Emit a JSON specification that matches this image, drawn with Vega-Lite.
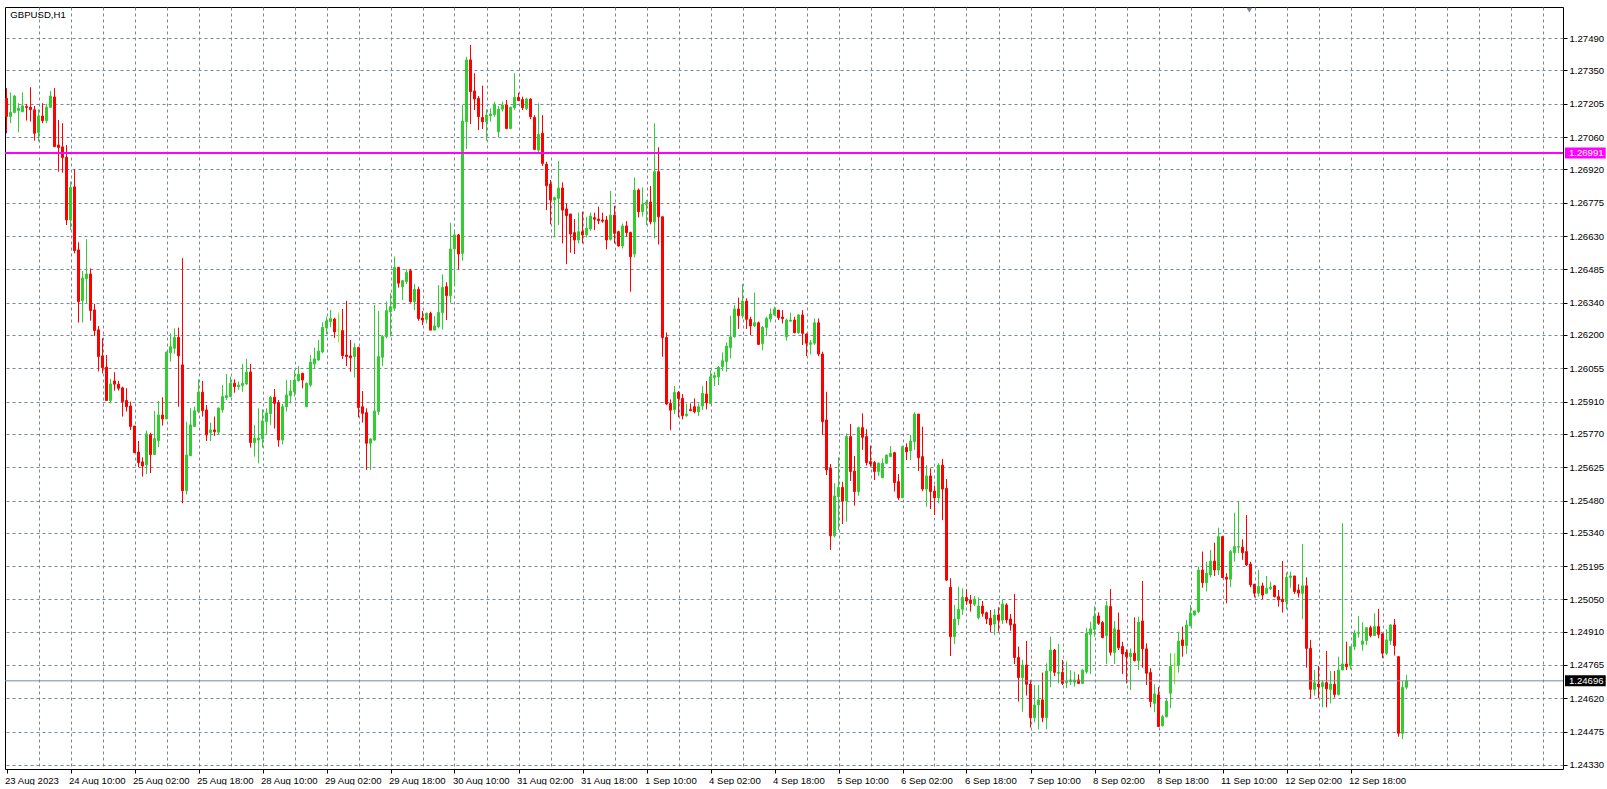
{
"$schema":"https://vega.github.io/schema/vega-lite/v6.json",
"width":1558,"height":762,
"padding":{"left":4,"top":7,"right":0,"bottom":0},
"background":"#ffffff",
"config":{"view":{"stroke":"#000000","strokeWidth":1},"axis":{"labelFont":"Liberation Sans","labelFontSize":9.6,"labelColor":"#000000","domain":false,"gridColor":"#778899","gridDash":[3,3],"gridWidth":1,"tickColor":"#000000","tickSize":4,"labelOverlap":false,"labelBound":false,"labelFlush":false,"tickCount":200}},
"data":{"values":[
{"i":1,"o":1.27229,"h":1.27273,"l":1.27077,"c":1.27150},
{"i":2,"o":1.27150,"h":1.27255,"l":1.27121,"c":1.27168},
{"i":3,"o":1.27168,"h":1.27244,"l":1.27164,"c":1.27239},
{"i":4,"o":1.27176,"h":1.27208,"l":1.27081,"c":1.27187},
{"i":5,"o":1.27171,"h":1.27255,"l":1.27168,"c":1.27196},
{"i":6,"o":1.27193,"h":1.27205,"l":1.27132,"c":1.27189},
{"i":7,"o":1.27190,"h":1.27277,"l":1.27128,"c":1.27180},
{"i":8,"o":1.27179,"h":1.27196,"l":1.27045,"c":1.27077},
{"i":9,"o":1.27080,"h":1.27181,"l":1.27041,"c":1.27152},
{"i":10,"o":1.27152,"h":1.27208,"l":1.27121,"c":1.27132},
{"i":11,"o":1.27132,"h":1.27205,"l":1.27121,"c":1.27190},
{"i":12,"o":1.27190,"h":1.27261,"l":1.27189,"c":1.27239},
{"i":13,"o":1.27235,"h":1.27274,"l":1.27019,"c":1.27019},
{"i":14,"o":1.27026,"h":1.27135,"l":1.26910,"c":1.27015},
{"i":15,"o":1.27018,"h":1.27121,"l":1.26906,"c":1.26971},
{"i":16,"o":1.26973,"h":1.27026,"l":1.26678,"c":1.26700},
{"i":17,"o":1.26700,"h":1.26867,"l":1.26657,"c":1.26841},
{"i":18,"o":1.26844,"h":1.26921,"l":1.26555,"c":1.26567},
{"i":19,"o":1.26570,"h":1.26603,"l":1.26254,"c":1.26345},
{"i":20,"o":1.26349,"h":1.26478,"l":1.26254,"c":1.26448},
{"i":21,"o":1.26445,"h":1.26616,"l":1.26335,"c":1.26465},
{"i":22,"o":1.26465,"h":1.26489,"l":1.26262,"c":1.26306},
{"i":23,"o":1.26309,"h":1.26335,"l":1.26196,"c":1.26219},
{"i":24,"o":1.26222,"h":1.26239,"l":1.26041,"c":1.26106},
{"i":25,"o":1.26109,"h":1.26186,"l":1.26033,"c":1.26058},
{"i":26,"o":1.26060,"h":1.26113,"l":1.25915,"c":1.25915},
{"i":27,"o":1.25915,"h":1.26009,"l":1.25903,"c":1.25987},
{"i":28,"o":1.26000,"h":1.26038,"l":1.25958,"c":1.25986},
{"i":29,"o":1.25986,"h":1.26000,"l":1.25958,"c":1.25968},
{"i":30,"o":1.25970,"h":1.25975,"l":1.25845,"c":1.25910},
{"i":31,"o":1.25915,"h":1.25968,"l":1.25867,"c":1.25888},
{"i":32,"o":1.25891,"h":1.25910,"l":1.25787,"c":1.25802},
{"i":33,"o":1.25804,"h":1.25804,"l":1.25688,"c":1.25688},
{"i":34,"o":1.25691,"h":1.25739,"l":1.25625,"c":1.25645},
{"i":35,"o":1.25648,"h":1.25668,"l":1.25584,"c":1.25630},
{"i":36,"o":1.25635,"h":1.25784,"l":1.25596,"c":1.25770},
{"i":37,"o":1.25767,"h":1.25775,"l":1.25599,"c":1.25680},
{"i":38,"o":1.25680,"h":1.25870,"l":1.25680,"c":1.25749},
{"i":39,"o":1.25741,"h":1.25913,"l":1.25712,"c":1.25852},
{"i":40,"o":1.25852,"h":1.25929,"l":1.25806,"c":1.25835},
{"i":41,"o":1.25835,"h":1.26128,"l":1.25835,"c":1.26125},
{"i":42,"o":1.26123,"h":1.26207,"l":1.26084,"c":1.26149},
{"i":43,"o":1.26142,"h":1.26229,"l":1.26118,"c":1.26189},
{"i":44,"o":1.26189,"h":1.26232,"l":1.25888,"c":1.26109},
{"i":45,"o":1.26070,"h":1.26534,"l":1.25468,"c":1.25523},
{"i":46,"o":1.25523,"h":1.25823,"l":1.25507,"c":1.25678},
{"i":47,"o":1.25675,"h":1.25881,"l":1.25674,"c":1.25809},
{"i":48,"o":1.25802,"h":1.25889,"l":1.25802,"c":1.25870},
{"i":49,"o":1.25867,"h":1.26007,"l":1.25859,"c":1.25951},
{"i":50,"o":1.25951,"h":1.26000,"l":1.25845,"c":1.25871},
{"i":51,"o":1.25874,"h":1.25895,"l":1.25739,"c":1.25765},
{"i":52,"o":1.25775,"h":1.25819,"l":1.25739,"c":1.25787},
{"i":53,"o":1.25787,"h":1.25845,"l":1.25761,"c":1.25780},
{"i":54,"o":1.25777,"h":1.25885,"l":1.25765,"c":1.25882},
{"i":55,"o":1.25874,"h":1.25982,"l":1.25862,"c":1.25932},
{"i":56,"o":1.25927,"h":1.26030,"l":1.25917,"c":1.25936},
{"i":57,"o":1.25932,"h":1.26019,"l":1.25929,"c":1.25990},
{"i":58,"o":1.25990,"h":1.26007,"l":1.25949,"c":1.25975},
{"i":59,"o":1.25975,"h":1.25997,"l":1.25961,"c":1.25982},
{"i":60,"o":1.25980,"h":1.26074,"l":1.25953,"c":1.25990},
{"i":61,"o":1.25987,"h":1.26096,"l":1.25982,"c":1.26039},
{"i":62,"o":1.26039,"h":1.26074,"l":1.25710,"c":1.25732},
{"i":63,"o":1.25732,"h":1.25809,"l":1.25671,"c":1.25751},
{"i":64,"o":1.25743,"h":1.25881,"l":1.25642,"c":1.25751},
{"i":65,"o":1.25748,"h":1.25877,"l":1.25710,"c":1.25826},
{"i":66,"o":1.25823,"h":1.25881,"l":1.25765,"c":1.25861},
{"i":67,"o":1.25858,"h":1.25935,"l":1.25809,"c":1.25929},
{"i":68,"o":1.25929,"h":1.25965,"l":1.25793,"c":1.25903},
{"i":69,"o":1.25906,"h":1.25917,"l":1.25714,"c":1.25743},
{"i":70,"o":1.25743,"h":1.25900,"l":1.25724,"c":1.25888},
{"i":71,"o":1.25888,"h":1.26004,"l":1.25867,"c":1.25939},
{"i":72,"o":1.25936,"h":1.26004,"l":1.25903,"c":1.25956},
{"i":73,"o":1.25953,"h":1.26048,"l":1.25932,"c":1.26004},
{"i":74,"o":1.26001,"h":1.26065,"l":1.25997,"c":1.26030},
{"i":75,"o":1.26033,"h":1.26036,"l":1.25968,"c":1.26004},
{"i":76,"o":1.25888,"h":1.25993,"l":1.25888,"c":1.25990},
{"i":77,"o":1.25982,"h":1.26113,"l":1.25975,"c":1.26082},
{"i":78,"o":1.26074,"h":1.26145,"l":1.26055,"c":1.26096},
{"i":79,"o":1.26091,"h":1.26178,"l":1.26088,"c":1.26130},
{"i":80,"o":1.26126,"h":1.26255,"l":1.26120,"c":1.26233},
{"i":81,"o":1.26232,"h":1.26280,"l":1.26203,"c":1.26261},
{"i":82,"o":1.26258,"h":1.26309,"l":1.26233,"c":1.26271},
{"i":83,"o":1.26269,"h":1.26275,"l":1.26187,"c":1.26213},
{"i":84,"o":1.26222,"h":1.26297,"l":1.26167,"c":1.26222},
{"i":85,"o":1.26219,"h":1.26313,"l":1.26096,"c":1.26110},
{"i":86,"o":1.26113,"h":1.26348,"l":1.26065,"c":1.26106},
{"i":87,"o":1.26109,"h":1.26178,"l":1.26040,"c":1.26101},
{"i":88,"o":1.26106,"h":1.26164,"l":1.26014,"c":1.26145},
{"i":89,"o":1.26145,"h":1.26149,"l":1.25842,"c":1.25884},
{"i":90,"o":1.25888,"h":1.25956,"l":1.25819,"c":1.25859},
{"i":91,"o":1.25862,"h":1.25881,"l":1.25613,"c":1.25729},
{"i":92,"o":1.25729,"h":1.25750,"l":1.25613,"c":1.25748},
{"i":93,"o":1.25743,"h":1.26330,"l":1.25740,"c":1.25869},
{"i":94,"o":1.25867,"h":1.26304,"l":1.25852,"c":1.26106},
{"i":95,"o":1.26103,"h":1.26200,"l":1.26065,"c":1.26193},
{"i":96,"o":1.26193,"h":1.26345,"l":1.26185,"c":1.26306},
{"i":97,"o":1.26301,"h":1.26381,"l":1.26193,"c":1.26323},
{"i":98,"o":1.26316,"h":1.26541,"l":1.26304,"c":1.26494},
{"i":99,"o":1.26494,"h":1.26494,"l":1.26406,"c":1.26425},
{"i":100,"o":1.26410,"h":1.26439,"l":1.26352,"c":1.26436},
{"i":101,"o":1.26432,"h":1.26487,"l":1.26421,"c":1.26472},
{"i":102,"o":1.26479,"h":1.26487,"l":1.26340,"c":1.26345},
{"i":103,"o":1.26345,"h":1.26421,"l":1.26308,"c":1.26398},
{"i":104,"o":1.26398,"h":1.26410,"l":1.26262,"c":1.26271},
{"i":105,"o":1.26274,"h":1.26304,"l":1.26243,"c":1.26265},
{"i":106,"o":1.26268,"h":1.26297,"l":1.26250,"c":1.26294},
{"i":107,"o":1.26294,"h":1.26301,"l":1.26221,"c":1.26221},
{"i":108,"o":1.26221,"h":1.26282,"l":1.26221,"c":1.26239},
{"i":109,"o":1.26236,"h":1.26417,"l":1.26229,"c":1.26298},
{"i":110,"o":1.26297,"h":1.26464,"l":1.26224,"c":1.26407},
{"i":111,"o":1.26410,"h":1.26429,"l":1.26265,"c":1.26371},
{"i":112,"o":1.26371,"h":1.26688,"l":1.26340,"c":1.26574},
{"i":113,"o":1.26574,"h":1.26656,"l":1.26413,"c":1.26635},
{"i":114,"o":1.26635,"h":1.26639,"l":1.26485,"c":1.26552},
{"i":115,"o":1.26555,"h":1.27200,"l":1.26523,"c":1.27130},
{"i":116,"o":1.27127,"h":1.27410,"l":1.27009,"c":1.27396},
{"i":117,"o":1.27396,"h":1.27461,"l":1.27117,"c":1.27258},
{"i":118,"o":1.27261,"h":1.27338,"l":1.27178,"c":1.27226},
{"i":119,"o":1.27229,"h":1.27239,"l":1.27091,"c":1.27149},
{"i":120,"o":1.27146,"h":1.27284,"l":1.27095,"c":1.27127},
{"i":121,"o":1.27127,"h":1.27182,"l":1.27045,"c":1.27156},
{"i":122,"o":1.27153,"h":1.27185,"l":1.27127,"c":1.27161},
{"i":123,"o":1.27159,"h":1.27214,"l":1.27149,"c":1.27204},
{"i":124,"o":1.27084,"h":1.27196,"l":1.27059,"c":1.27182},
{"i":125,"o":1.27182,"h":1.27214,"l":1.27171,"c":1.27200},
{"i":126,"o":1.27200,"h":1.27222,"l":1.27094,"c":1.27098},
{"i":127,"o":1.27098,"h":1.27193,"l":1.27095,"c":1.27190},
{"i":128,"o":1.27188,"h":1.27338,"l":1.27178,"c":1.27233},
{"i":129,"o":1.27233,"h":1.27253,"l":1.27217,"c":1.27219},
{"i":130,"o":1.27224,"h":1.27236,"l":1.27178,"c":1.27188},
{"i":131,"o":1.27185,"h":1.27232,"l":1.27178,"c":1.27226},
{"i":132,"o":1.27226,"h":1.27229,"l":1.27138,"c":1.27149},
{"i":133,"o":1.27146,"h":1.27156,"l":1.27004,"c":1.27007},
{"i":134,"o":1.27004,"h":1.27207,"l":1.26993,"c":1.27072},
{"i":135,"o":1.27077,"h":1.27156,"l":1.26935,"c":1.26946},
{"i":136,"o":1.26943,"h":1.26953,"l":1.26743,"c":1.26849},
{"i":137,"o":1.26856,"h":1.26874,"l":1.26681,"c":1.26787},
{"i":138,"o":1.26787,"h":1.26801,"l":1.26624,"c":1.26797},
{"i":139,"o":1.26794,"h":1.26956,"l":1.26678,"c":1.26839},
{"i":140,"o":1.26839,"h":1.26864,"l":1.26598,"c":1.26743},
{"i":141,"o":1.26748,"h":1.26772,"l":1.26508,"c":1.26719},
{"i":142,"o":1.26726,"h":1.26726,"l":1.26558,"c":1.26639},
{"i":143,"o":1.26645,"h":1.26704,"l":1.26552,"c":1.26613},
{"i":144,"o":1.26613,"h":1.26732,"l":1.26598,"c":1.26649},
{"i":145,"o":1.26649,"h":1.26736,"l":1.26598,"c":1.26635},
{"i":146,"o":1.26635,"h":1.26714,"l":1.26624,"c":1.26664},
{"i":147,"o":1.26661,"h":1.26732,"l":1.26653,"c":1.26717},
{"i":148,"o":1.26710,"h":1.26732,"l":1.26656,"c":1.26703},
{"i":149,"o":1.26704,"h":1.26758,"l":1.26682,"c":1.26697},
{"i":150,"o":1.26700,"h":1.26732,"l":1.26688,"c":1.26695},
{"i":151,"o":1.26700,"h":1.26717,"l":1.26572,"c":1.26613},
{"i":152,"o":1.26616,"h":1.26826,"l":1.26610,"c":1.26721},
{"i":153,"o":1.26721,"h":1.26762,"l":1.26598,"c":1.26642},
{"i":154,"o":1.26649,"h":1.26653,"l":1.26584,"c":1.26587},
{"i":155,"o":1.26587,"h":1.26685,"l":1.26576,"c":1.26674},
{"i":156,"o":1.26674,"h":1.26695,"l":1.26627,"c":1.26645},
{"i":157,"o":1.26646,"h":1.26649,"l":1.26388,"c":1.26540},
{"i":158,"o":1.26552,"h":1.26885,"l":1.26537,"c":1.26830},
{"i":159,"o":1.26830,"h":1.26837,"l":1.26711,"c":1.26736},
{"i":160,"o":1.26736,"h":1.26842,"l":1.26714,"c":1.26769},
{"i":161,"o":1.26768,"h":1.26787,"l":1.26678,"c":1.26778},
{"i":162,"o":1.26778,"h":1.26848,"l":1.26681,"c":1.26692},
{"i":163,"o":1.26692,"h":1.27120,"l":1.26620,"c":1.26910},
{"i":164,"o":1.26910,"h":1.27016,"l":1.26594,"c":1.26714},
{"i":165,"o":1.26714,"h":1.26714,"l":1.26105,"c":1.26188},
{"i":166,"o":1.26189,"h":1.26211,"l":1.25895,"c":1.25900},
{"i":167,"o":1.25902,"h":1.25920,"l":1.25786,"c":1.25873},
{"i":168,"o":1.25876,"h":1.25978,"l":1.25856,"c":1.25950},
{"i":169,"o":1.25950,"h":1.25956,"l":1.25842,"c":1.25924},
{"i":170,"o":1.25924,"h":1.25943,"l":1.25833,"c":1.25849},
{"i":171,"o":1.25849,"h":1.25900,"l":1.25844,"c":1.25856},
{"i":172,"o":1.25876,"h":1.25902,"l":1.25869,"c":1.25871},
{"i":173,"o":1.25888,"h":1.25924,"l":1.25859,"c":1.25866},
{"i":174,"o":1.25866,"h":1.25902,"l":1.25847,"c":1.25888},
{"i":175,"o":1.25891,"h":1.25978,"l":1.25873,"c":1.25946},
{"i":176,"o":1.25943,"h":1.26000,"l":1.25876,"c":1.25905},
{"i":177,"o":1.25902,"h":1.26047,"l":1.25900,"c":1.26018},
{"i":178,"o":1.26015,"h":1.26040,"l":1.25978,"c":1.26023},
{"i":179,"o":1.26018,"h":1.26065,"l":1.25982,"c":1.26059},
{"i":180,"o":1.26062,"h":1.26124,"l":1.26044,"c":1.26088},
{"i":181,"o":1.26084,"h":1.26168,"l":1.26040,"c":1.26152},
{"i":182,"o":1.26145,"h":1.26284,"l":1.26098,"c":1.26192},
{"i":183,"o":1.26192,"h":1.26330,"l":1.26188,"c":1.26313},
{"i":184,"o":1.26313,"h":1.26362,"l":1.26226,"c":1.26284},
{"i":185,"o":1.26284,"h":1.26421,"l":1.26272,"c":1.26347},
{"i":186,"o":1.26347,"h":1.26359,"l":1.26226,"c":1.26268},
{"i":187,"o":1.26268,"h":1.26279,"l":1.26200,"c":1.26239},
{"i":188,"o":1.26239,"h":1.26384,"l":1.26236,"c":1.26253},
{"i":189,"o":1.26253,"h":1.26258,"l":1.26156,"c":1.26159},
{"i":190,"o":1.26163,"h":1.26239,"l":1.26134,"c":1.26233},
{"i":191,"o":1.26233,"h":1.26279,"l":1.26195,"c":1.26272},
{"i":192,"o":1.26269,"h":1.26316,"l":1.26255,"c":1.26291},
{"i":193,"o":1.26287,"h":1.26323,"l":1.26284,"c":1.26313},
{"i":194,"o":1.26308,"h":1.26308,"l":1.26265,"c":1.26275},
{"i":195,"o":1.26278,"h":1.26308,"l":1.26250,"c":1.26271},
{"i":196,"o":1.26192,"h":1.26272,"l":1.26175,"c":1.26265},
{"i":197,"o":1.26260,"h":1.26297,"l":1.26258,"c":1.26265},
{"i":198,"o":1.26265,"h":1.26279,"l":1.26207,"c":1.26210},
{"i":199,"o":1.26210,"h":1.26291,"l":1.26204,"c":1.26287},
{"i":200,"o":1.26287,"h":1.26308,"l":1.26156,"c":1.26207},
{"i":201,"o":1.26204,"h":1.26207,"l":1.26108,"c":1.26164},
{"i":202,"o":1.26159,"h":1.26178,"l":1.26116,"c":1.26166},
{"i":203,"o":1.26164,"h":1.26272,"l":1.26156,"c":1.26253},
{"i":204,"o":1.26253,"h":1.26272,"l":1.26108,"c":1.26117},
{"i":205,"o":1.26117,"h":1.26127,"l":1.25765,"c":1.25823},
{"i":206,"o":1.25830,"h":1.25953,"l":1.25591,"c":1.25613},
{"i":207,"o":1.25620,"h":1.25639,"l":1.25265,"c":1.25327},
{"i":208,"o":1.25327,"h":1.25555,"l":1.25319,"c":1.25500},
{"i":209,"o":1.25497,"h":1.25668,"l":1.25352,"c":1.25537},
{"i":210,"o":1.25537,"h":1.25562,"l":1.25378,"c":1.25478},
{"i":211,"o":1.25478,"h":1.25772,"l":1.25388,"c":1.25758},
{"i":212,"o":1.25758,"h":1.25813,"l":1.25565,"c":1.25606},
{"i":213,"o":1.25608,"h":1.25674,"l":1.25458,"c":1.25519},
{"i":214,"o":1.25519,"h":1.25801,"l":1.25501,"c":1.25797},
{"i":215,"o":1.25797,"h":1.25859,"l":1.25700,"c":1.25755},
{"i":216,"o":1.25758,"h":1.25790,"l":1.25632,"c":1.25645},
{"i":217,"o":1.25649,"h":1.25719,"l":1.25627,"c":1.25639},
{"i":218,"o":1.25645,"h":1.25652,"l":1.25569,"c":1.25606},
{"i":219,"o":1.25606,"h":1.25646,"l":1.25587,"c":1.25642},
{"i":220,"o":1.25579,"h":1.25663,"l":1.25579,"c":1.25642},
{"i":221,"o":1.25642,"h":1.25678,"l":1.25642,"c":1.25678},
{"i":222,"o":1.25671,"h":1.25717,"l":1.25671,"c":1.25685},
{"i":223,"o":1.25688,"h":1.25692,"l":1.25519,"c":1.25558},
{"i":224,"o":1.25562,"h":1.25595,"l":1.25482,"c":1.25492},
{"i":225,"o":1.25492,"h":1.25719,"l":1.25490,"c":1.25714},
{"i":226,"o":1.25711,"h":1.25729,"l":1.25656,"c":1.25692},
{"i":227,"o":1.25697,"h":1.25765,"l":1.25656,"c":1.25739},
{"i":228,"o":1.25736,"h":1.25864,"l":1.25700,"c":1.25856},
{"i":229,"o":1.25856,"h":1.25856,"l":1.25608,"c":1.25666},
{"i":230,"o":1.25671,"h":1.25801,"l":1.25521,"c":1.25530},
{"i":231,"o":1.25530,"h":1.25634,"l":1.25453,"c":1.25587},
{"i":232,"o":1.25587,"h":1.25620,"l":1.25443,"c":1.25519},
{"i":233,"o":1.25521,"h":1.25545,"l":1.25417,"c":1.25492},
{"i":234,"o":1.25492,"h":1.25642,"l":1.25468,"c":1.25634},
{"i":235,"o":1.25634,"h":1.25661,"l":1.25395,"c":1.25530},
{"i":236,"o":1.25533,"h":1.25574,"l":1.25130,"c":1.25134},
{"i":237,"o":1.25103,"h":1.25142,"l":1.24804,"c":1.24888},
{"i":238,"o":1.24888,"h":1.25026,"l":1.24856,"c":1.24965},
{"i":239,"o":1.24965,"h":1.25105,"l":1.24939,"c":1.25007},
{"i":240,"o":1.25007,"h":1.25098,"l":1.24982,"c":1.25059},
{"i":241,"o":1.25058,"h":1.25094,"l":1.25026,"c":1.25043},
{"i":242,"o":1.25047,"h":1.25069,"l":1.24997,"c":1.25033},
{"i":243,"o":1.25029,"h":1.25065,"l":1.25021,"c":1.25052},
{"i":244,"o":1.24971,"h":1.25059,"l":1.24963,"c":1.25021},
{"i":245,"o":1.25021,"h":1.25043,"l":1.24975,"c":1.24989},
{"i":246,"o":1.24992,"h":1.24997,"l":1.24943,"c":1.24965},
{"i":247,"o":1.24968,"h":1.25004,"l":1.24907,"c":1.24939},
{"i":248,"o":1.24943,"h":1.25008,"l":1.24895,"c":1.24982},
{"i":249,"o":1.24982,"h":1.25016,"l":1.24910,"c":1.24960},
{"i":250,"o":1.24960,"h":1.25050,"l":1.24943,"c":1.25030},
{"i":251,"o":1.25026,"h":1.25033,"l":1.24946,"c":1.24961},
{"i":252,"o":1.24965,"h":1.24987,"l":1.24914,"c":1.24939},
{"i":253,"o":1.24943,"h":1.25074,"l":1.24769,"c":1.24797},
{"i":254,"o":1.24798,"h":1.24845,"l":1.24606,"c":1.24710},
{"i":255,"o":1.24710,"h":1.24787,"l":1.24562,"c":1.24765},
{"i":256,"o":1.24765,"h":1.24869,"l":1.24632,"c":1.24681},
{"i":257,"o":1.24682,"h":1.24700,"l":1.24493,"c":1.24536},
{"i":258,"o":1.24536,"h":1.24678,"l":1.24516,"c":1.24591},
{"i":259,"o":1.24591,"h":1.24678,"l":1.24485,"c":1.24613},
{"i":260,"o":1.24613,"h":1.24732,"l":1.24516,"c":1.24536},
{"i":261,"o":1.24536,"h":1.24772,"l":1.24485,"c":1.24739},
{"i":262,"o":1.24739,"h":1.24888,"l":1.24668,"c":1.24830},
{"i":263,"o":1.24830,"h":1.24835,"l":1.24717,"c":1.24733},
{"i":264,"o":1.24729,"h":1.24856,"l":1.24685,"c":1.24733},
{"i":265,"o":1.24733,"h":1.24787,"l":1.24678,"c":1.24685},
{"i":266,"o":1.24688,"h":1.24780,"l":1.24664,"c":1.24693},
{"i":267,"o":1.24693,"h":1.24743,"l":1.24678,"c":1.24700},
{"i":268,"o":1.24690,"h":1.24736,"l":1.24671,"c":1.24700},
{"i":269,"o":1.24700,"h":1.24724,"l":1.24682,"c":1.24685},
{"i":270,"o":1.24685,"h":1.24746,"l":1.24682,"c":1.24743},
{"i":271,"o":1.24736,"h":1.24927,"l":1.24726,"c":1.24903},
{"i":272,"o":1.24898,"h":1.24953,"l":1.24726,"c":1.24922},
{"i":273,"o":1.24920,"h":1.25022,"l":1.24888,"c":1.24978},
{"i":274,"o":1.24978,"h":1.24994,"l":1.24939,"c":1.24946},
{"i":275,"o":1.24949,"h":1.24956,"l":1.24881,"c":1.24884},
{"i":276,"o":1.24893,"h":1.25043,"l":1.24769,"c":1.25022},
{"i":277,"o":1.25019,"h":1.25095,"l":1.24806,"c":1.24820},
{"i":278,"o":1.24820,"h":1.24956,"l":1.24769,"c":1.24922},
{"i":279,"o":1.24917,"h":1.24993,"l":1.24830,"c":1.24840},
{"i":280,"o":1.24845,"h":1.24866,"l":1.24726,"c":1.24813},
{"i":281,"o":1.24820,"h":1.24833,"l":1.24685,"c":1.24801},
{"i":282,"o":1.24801,"h":1.24837,"l":1.24656,"c":1.24816},
{"i":283,"o":1.24816,"h":1.24972,"l":1.24780,"c":1.24784},
{"i":284,"o":1.24784,"h":1.24975,"l":1.24743,"c":1.24951},
{"i":285,"o":1.24956,"h":1.25130,"l":1.24753,"c":1.24835},
{"i":286,"o":1.24835,"h":1.24859,"l":1.24678,"c":1.24729},
{"i":287,"o":1.24732,"h":1.24751,"l":1.24581,"c":1.24606},
{"i":288,"o":1.24598,"h":1.24681,"l":1.24559,"c":1.24639},
{"i":289,"o":1.24635,"h":1.24668,"l":1.24497,"c":1.24497},
{"i":290,"o":1.24501,"h":1.24548,"l":1.24497,"c":1.24540},
{"i":291,"o":1.24540,"h":1.24620,"l":1.24537,"c":1.24608},
{"i":292,"o":1.24642,"h":1.24816,"l":1.24577,"c":1.24758},
{"i":293,"o":1.24769,"h":1.24816,"l":1.24681,"c":1.24769},
{"i":294,"o":1.24765,"h":1.24910,"l":1.24732,"c":1.24869},
{"i":295,"o":1.24874,"h":1.24932,"l":1.24801,"c":1.24849},
{"i":296,"o":1.24849,"h":1.24961,"l":1.24813,"c":1.24939},
{"i":297,"o":1.24935,"h":1.25026,"l":1.24935,"c":1.24990},
{"i":298,"o":1.24982,"h":1.25001,"l":1.24980,"c":1.25000},
{"i":299,"o":1.24997,"h":1.25193,"l":1.24990,"c":1.25178},
{"i":300,"o":1.25178,"h":1.25258,"l":1.25101,"c":1.25123},
{"i":301,"o":1.25123,"h":1.25214,"l":1.25084,"c":1.25164},
{"i":302,"o":1.25156,"h":1.25265,"l":1.25146,"c":1.25217},
{"i":303,"o":1.25217,"h":1.25297,"l":1.25152,"c":1.25178},
{"i":304,"o":1.25178,"h":1.25362,"l":1.25156,"c":1.25323},
{"i":305,"o":1.25323,"h":1.25326,"l":1.25142,"c":1.25145},
{"i":306,"o":1.25146,"h":1.25164,"l":1.25033,"c":1.25138},
{"i":307,"o":1.25138,"h":1.25265,"l":1.25103,"c":1.25258},
{"i":308,"o":1.25253,"h":1.25427,"l":1.25214,"c":1.25280},
{"i":309,"o":1.25277,"h":1.25475,"l":1.25251,"c":1.25280},
{"i":310,"o":1.25277,"h":1.25311,"l":1.25222,"c":1.25253},
{"i":311,"o":1.25258,"h":1.25417,"l":1.25196,"c":1.25200},
{"i":312,"o":1.25204,"h":1.25214,"l":1.25103,"c":1.25113},
{"i":313,"o":1.25116,"h":1.25117,"l":1.25059,"c":1.25077},
{"i":314,"o":1.25077,"h":1.25178,"l":1.25062,"c":1.25106},
{"i":315,"o":1.25109,"h":1.25123,"l":1.25051,"c":1.25069},
{"i":316,"o":1.25077,"h":1.25152,"l":1.25074,"c":1.25098},
{"i":317,"o":1.25096,"h":1.25127,"l":1.25091,"c":1.25103},
{"i":318,"o":1.25109,"h":1.25113,"l":1.25059,"c":1.25062},
{"i":319,"o":1.25062,"h":1.25091,"l":1.25019,"c":1.25048},
{"i":320,"o":1.25051,"h":1.25217,"l":1.24993,"c":1.25040},
{"i":321,"o":1.25040,"h":1.25167,"l":1.25007,"c":1.25146},
{"i":322,"o":1.25145,"h":1.25171,"l":1.25101,"c":1.25152},
{"i":323,"o":1.25152,"h":1.25152,"l":1.25074,"c":1.25084},
{"i":324,"o":1.25091,"h":1.25116,"l":1.25058,"c":1.25077},
{"i":325,"o":1.25077,"h":1.25291,"l":1.24964,"c":1.25109},
{"i":326,"o":1.25109,"h":1.25146,"l":1.24753,"c":1.24837},
{"i":327,"o":1.24837,"h":1.24874,"l":1.24617,"c":1.24659},
{"i":328,"o":1.24659,"h":1.24743,"l":1.24632,"c":1.24688},
{"i":329,"o":1.24682,"h":1.24761,"l":1.24620,"c":1.24671},
{"i":330,"o":1.24671,"h":1.24700,"l":1.24581,"c":1.24688},
{"i":331,"o":1.24688,"h":1.24826,"l":1.24581,"c":1.24661},
{"i":332,"o":1.24659,"h":1.24739,"l":1.24598,"c":1.24682},
{"i":333,"o":1.24681,"h":1.24739,"l":1.24623,"c":1.24637},
{"i":334,"o":1.24637,"h":1.24801,"l":1.24632,"c":1.24743},
{"i":335,"o":1.24743,"h":1.25381,"l":1.24743,"c":1.24769},
{"i":336,"o":1.24769,"h":1.24866,"l":1.24743,"c":1.24758},
{"i":337,"o":1.24761,"h":1.24819,"l":1.24746,"c":1.24845},
{"i":338,"o":1.24845,"h":1.24917,"l":1.24830,"c":1.24903},
{"i":339,"o":1.24903,"h":1.24978,"l":1.24884,"c":1.24907},
{"i":340,"o":1.24855,"h":1.24951,"l":1.24827,"c":1.24869},
{"i":341,"o":1.24871,"h":1.24930,"l":1.24852,"c":1.24927},
{"i":342,"o":1.24927,"h":1.24936,"l":1.24885,"c":1.24893},
{"i":343,"o":1.24893,"h":1.24990,"l":1.24891,"c":1.24932},
{"i":344,"o":1.24932,"h":1.25009,"l":1.24881,"c":1.24898},
{"i":345,"o":1.24900,"h":1.24903,"l":1.24794,"c":1.24816},
{"i":346,"o":1.24816,"h":1.24920,"l":1.24809,"c":1.24874},
{"i":347,"o":1.24871,"h":1.24942,"l":1.24852,"c":1.24939},
{"i":348,"o":1.24939,"h":1.24965,"l":1.24806,"c":1.24849},
{"i":349,"o":1.24801,"h":1.24801,"l":1.24453,"c":1.24468},
{"i":350,"o":1.24468,"h":1.24695,"l":1.24442,"c":1.24668},
{"i":351,"o":1.24668,"h":1.24722,"l":1.24659,"c":1.24696}
]},
"layer":[
{"mark":{"type":"rule","strokeWidth":1},
"encoding":{
"x":{"field":"i","type":"quantitative","scale":{"domain":[0.625,390.125],"nice":false,"zero":false,"padding":0},
"axis":{"orient":"bottom","title":null,"tickCount":200,"values":[1,9,17,25,33,41,49,57,65,73,81,89,97,105,113,121,129,137,145,153,161,169,177,185,193,201,209,217,225,233,241,249,257,265,273,281,289,297,305,313,321,329,337,345,353,361,369,377,385],
"labelExpr":"(datum.value % 16 == 1 && datum.value <= 337) ? ['23 Aug 2023','24 Aug 10:00','25 Aug 02:00','25 Aug 18:00','28 Aug 10:00','29 Aug 02:00','29 Aug 18:00','30 Aug 10:00','31 Aug 02:00','31 Aug 18:00','1 Sep 10:00','4 Sep 02:00','4 Sep 18:00','5 Sep 10:00','6 Sep 02:00','6 Sep 18:00','7 Sep 10:00','8 Sep 02:00','8 Sep 18:00','11 Sep 10:00','12 Sep 02:00','12 Sep 18:00'][floor(datum.value / 16)] : ''",
"labelAlign":"left","labelOffset":-2,"labelPadding":2,"labelOverlap":false,"labelBound":false,"labelFlush":false,
"grid":true,"gridColor":{"condition":{"test":"datum.value == 1","value":"rgba(0,0,0,0)"},"value":"#778899"},
"tickOpacity":{"condition":{"test":"datum.value % 16 == 1 && datum.value <= 337","value":1},"value":0}}},
"y":{"field":"l","type":"quantitative","scale":{"domain":[1.243126,1.276261],"nice":false,"zero":false,"padding":0},
"axis":{"orient":"right","title":null,"tickCount":200,"values":[1.2749,1.2735,1.27205,1.2706,1.2692,1.26775,1.2663,1.26485,1.2634,1.262,1.26055,1.2591,1.2577,1.25625,1.2548,1.2534,1.25195,1.2505,1.2491,1.24765,1.2462,1.24475,1.2433],"format":".5f","labelPadding":2,"labelBaseline":"middle","labelOverlap":false,"labelBound":false,"labelFlush":false,"grid":true}},
"y2":{"field":"h"},
"color":{"condition":[{"test":"datum.c > datum.o","value":"#32CD32"},{"test":"datum.c < datum.o","value":"#FF0000"}],"value":"#7CFC00"}}},
{"mark":{"type":"bar","size":2,"strokeWidth":1},
"encoding":{"x":{"field":"i","type":"quantitative"},"y":{"field":"o","type":"quantitative"},"y2":{"field":"c"},
"color":{"condition":[{"test":"datum.c > datum.o","value":"#32CD32"},{"test":"datum.c < datum.o","value":"#FF0000"}],"value":"#7CFC00"},
"stroke":{"condition":[{"test":"datum.c > datum.o","value":"#32CD32"},{"test":"datum.c < datum.o","value":"#FF0000"}],"value":"#7CFC00"}}},
{"data":{"values":[{}]},"mark":{"type":"rule","color":"#FF00FF","strokeWidth":2},
"encoding":{"y":{"datum":1.26991,"type":"quantitative"}}},
{"data":{"values":[{}]},"mark":{"type":"rule","color":"#778899","strokeWidth":1},
"encoding":{"y":{"datum":1.24696,"type":"quantitative"}}},
{"data":{"values":[{}]},"mark":{"type":"rect","color":"#FF00FF","clip":false},
"encoding":{"x":{"datum":390.625,"type":"quantitative"},"x2":{"datum":400.8},"y":{"datum":1.27015,"type":"quantitative"},"y2":{"datum":1.26967}}},
{"data":{"values":[{}]},"mark":{"type":"text","color":"#FFFFFF","font":"Liberation Sans","fontSize":9.6,"align":"left","baseline":"middle","clip":false},
"encoding":{"x":{"datum":391.6,"type":"quantitative"},"y":{"datum":1.26991,"type":"quantitative"},"text":{"value":"1.26991"}}},
{"data":{"values":[{}]},"mark":{"type":"rect","color":"#000000","clip":false},
"encoding":{"x":{"datum":390.625,"type":"quantitative"},"x2":{"datum":400.8},"y":{"datum":1.2472,"type":"quantitative"},"y2":{"datum":1.24672}}},
{"data":{"values":[{}]},"mark":{"type":"text","color":"#FFFFFF","font":"Liberation Sans","fontSize":9.6,"align":"left","baseline":"middle","clip":false},
"encoding":{"x":{"datum":391.6,"type":"quantitative"},"y":{"datum":1.24696,"type":"quantitative"},"text":{"value":"1.24696"}}},
{"data":{"values":[{}]},"mark":{"type":"text","color":"#000000","font":"Liberation Sans","fontSize":9.6,"align":"left","baseline":"middle"},
"encoding":{"x":{"datum":1.95,"type":"quantitative"},"y":{"datum":1.2759,"type":"quantitative"},"text":{"value":"GBPUSD,H1"}}},
{"data":{"values":[{}]},"mark":{"type":"point","shape":"triangle-down","filled":true,"size":30,"color":"#778899","opacity":1},
"encoding":{"x":{"datum":311.7,"type":"quantitative"},"y":{"datum":1.27613,"type":"quantitative"}}}
]
}
